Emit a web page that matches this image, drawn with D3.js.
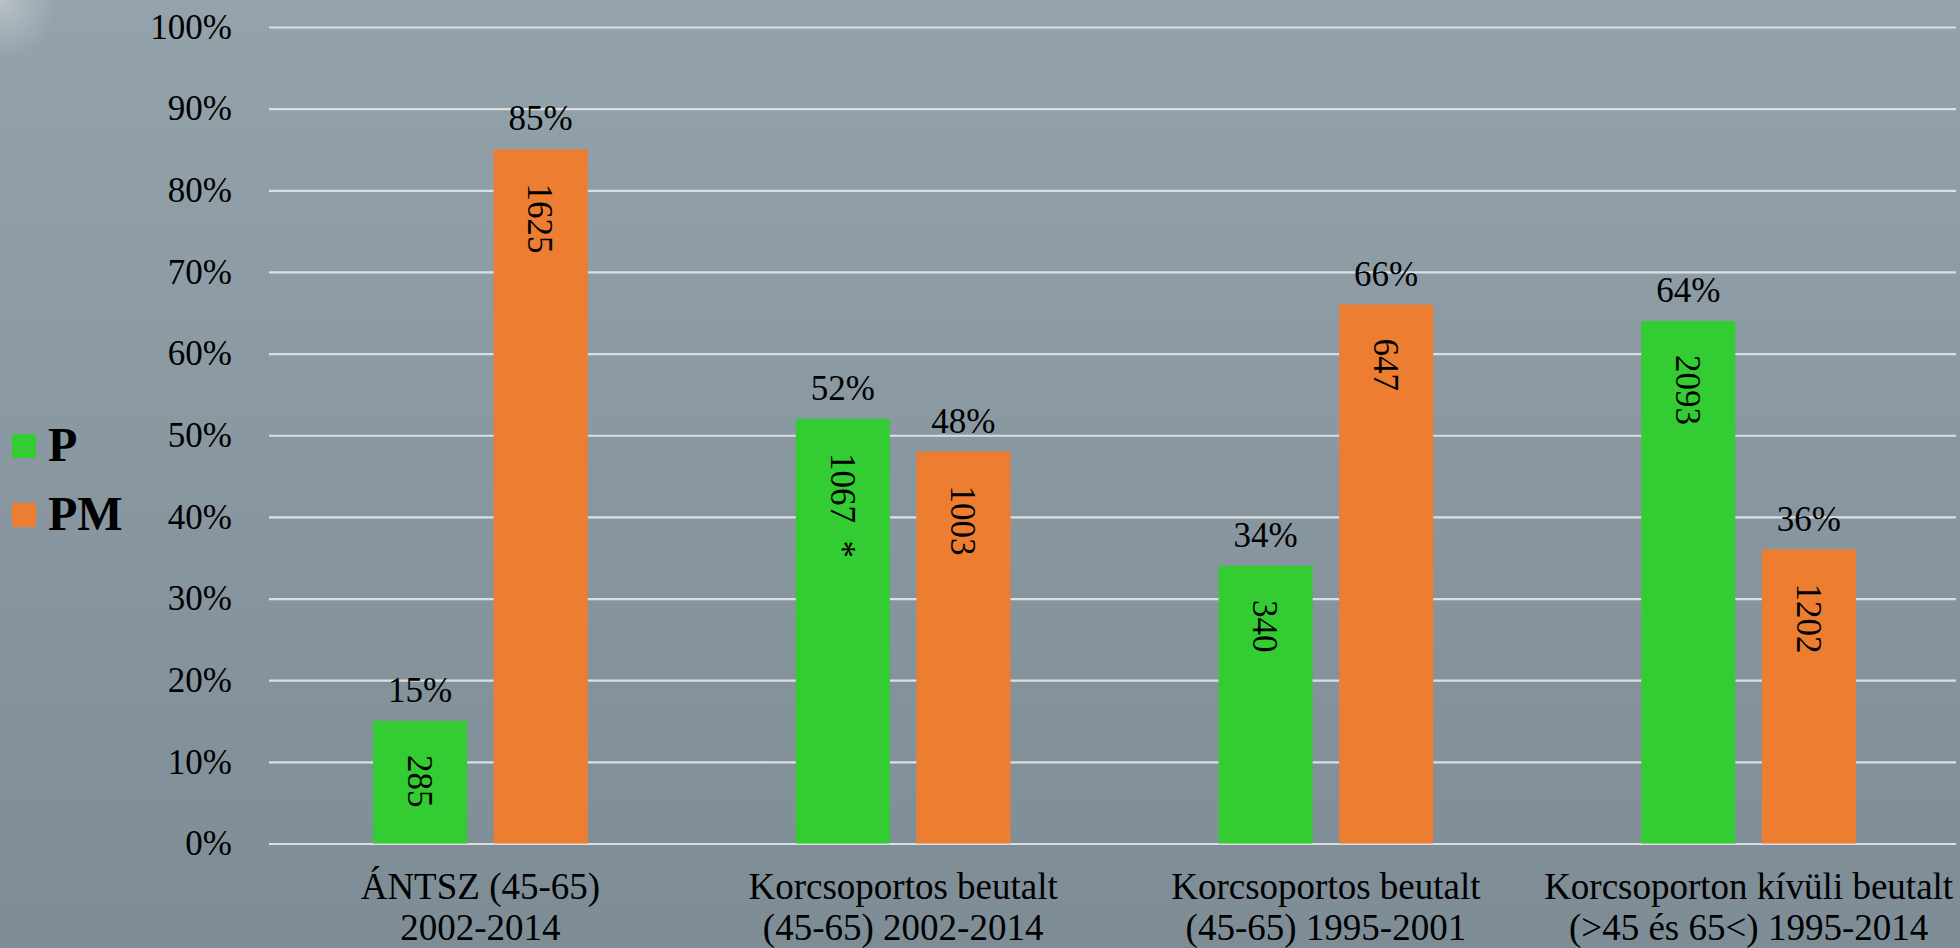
<!DOCTYPE html>
<html>
<head>
<meta charset="utf-8">
<script src="https://cdn.jsdelivr.net/npm/d3@7"></script>
<style>
    html, body { margin: 0; padding: 0; overflow: hidden; }
    svg { display: block; }
</style>
</head>
<body>
<svg id="chart"></svg>
<script>
    "use strict";
    // chart data
    var categoryLine1 = ["ÁNTSZ (45-65)", "Korcsoportos beutalt", "Korcsoportos beutalt", "Korcsoporton kívüli beutalt"];
    var categoryLine2 = ["2002-2014", "(45-65) 2002-2014", "(45-65) 1995-2001", "(>45 és 65<) 1995-2014"];
    var seriesNames = ["P", "PM"];
    var pShare = [15, 52, 34, 64];
    var pmShare = [85, 48, 66, 36];
    var pCounts = ["285", "1067  *", "340", "2093"];
    var pmCounts = ["1625", "1003", "647", "1202"];
    var yTicks = [0, 10, 20, 30, 40, 50, 60, 70, 80, 90, 100];
    var seriesColors = ["#33cc33", "#ed7d31"];

    var width = 1960;
    var height = 948;
    var svg = d3.select("#chart").attr("width", width).attr("height", height);

    var defs = svg.append("defs");
    var bg = defs.append("linearGradient").attr("id", "bg")
        .attr("x1", 0).attr("y1", 0).attr("x2", 0).attr("y2", 1);
    bg.append("stop").attr("offset", "0%").attr("stop-color", "#93a2ab");
    bg.append("stop").attr("offset", "100%").attr("stop-color", "#7e8c96");
    var glow = defs.append("radialGradient").attr("id", "glow")
        .attr("cx", 0).attr("cy", 0).attr("r", 1);
    glow.append("stop").attr("offset", "0%").attr("stop-color", "#ffffff").attr("stop-opacity", 0.35);
    glow.append("stop").attr("offset", "100%").attr("stop-color", "#ffffff").attr("stop-opacity", 0);

    svg.append("rect").attr("width", width).attr("height", height).attr("fill", "url(#bg)");
    svg.append("rect").attr("width", 60).attr("height", 60).attr("fill", "url(#glow)");

    var rows = categoryLine1.map(function (c, i) {
        return { key: i, values: [
            { name: "P", share: pShare[i], count: pCounts[i] },
            { name: "PM", share: pmShare[i], count: pmCounts[i] }
        ] };
    });

    var x0 = d3.scaleBand()
        .domain(d3.range(categoryLine1.length))
        .range([269, 1960])
        .padding(0);
    var bw = x0.bandwidth();
    var x1 = d3.scaleBand()
        .domain(seriesNames)
        .range([104, bw - 104])
        .paddingInner(0.22);
    var y = d3.scaleLinear()
        .domain([0, 100])
        .range([843.5, 27]);
    var color = d3.scaleOrdinal().domain(seriesNames).range(seriesColors);

    var font = "'Liberation Serif', 'Times New Roman', serif";

    // gridlines + y axis
    var yAxis = svg.append("g")
        .attr("transform", "translate(269,0)")
        .call(d3.axisLeft(y).tickValues(yTicks).tickSize(-(1956 - 269)).tickPadding(37)
            .tickFormat(function (d) { return d + "%"; }));
    yAxis.select(".domain").remove();
    yAxis.selectAll(".tick line").attr("stroke", "#dcdfe1").attr("stroke-width", 2.2);
    yAxis.selectAll(".tick text")
        .attr("fill", "#000")
        .style("font-family", font)
        .style("font-size", "35px");

    // bars
    var groups = svg.selectAll(".group")
        .data(rows)
        .enter().append("g")
        .attr("class", "group")
        .attr("transform", function (d) { return "translate(" + x0(d.key) + ",0)"; });

    groups.selectAll("rect")
        .data(function (d) { return d.values; })
        .enter().append("rect")
        .attr("x", function (d) { return x1(d.name); })
        .attr("y", function (d) { return y(d.share); })
        .attr("width", x1.bandwidth())
        .attr("height", function (d) { return y(0) - y(d.share); })
        .attr("fill", function (d) { return color(d.name); });

    // percentage labels
    groups.selectAll(".pct")
        .data(function (d) { return d.values; })
        .enter().append("text")
        .attr("class", "pct")
        .attr("x", function (d) { return x1(d.name) + x1.bandwidth() / 2; })
        .attr("y", function (d) { return y(d.share) - 19; })
        .attr("text-anchor", "middle")
        .style("font-family", font)
        .style("font-size", "35px")
        .text(function (d) { return d.share + "%"; });

    // rotated count labels
    groups.selectAll(".cnt")
        .data(function (d) { return d.values; })
        .enter().append("text")
        .attr("class", "cnt")
        .attr("transform", function (d) {
            return "translate(" + (x1(d.name) + x1.bandwidth() / 2) + "," + (y(d.share) + 34) + ") rotate(90)";
        })
        .attr("dy", "0.35em")
        .attr("text-anchor", "start")
        .style("font-family", font)
        .style("font-size", "35px")
        .style("white-space", "pre")
        .text(function (d) { return d.count; });

    // category labels
    var cats = svg.selectAll(".cat")
        .data(categoryLine1)
        .enter().append("text")
        .attr("class", "cat")
        .attr("text-anchor", "middle")
        .style("font-family", font)
        .style("font-size", "37px");
    cats.append("tspan")
        .attr("x", function (d, i) { return x0(i) + bw / 2; })
        .attr("y", 899)
        .text(function (d) { return d; });
    cats.append("tspan")
        .attr("x", function (d, i) { return x0(i) + bw / 2; })
        .attr("y", 940)
        .text(function (d, i) { return categoryLine2[i]; });

    // legend
    var legend = svg.selectAll(".legend")
        .data(seriesNames)
        .enter().append("g")
        .attr("class", "legend")
        .attr("transform", function (d, i) { return "translate(12," + (434 + i * 69) + ")"; });
    legend.append("rect")
        .attr("width", 24)
        .attr("height", 24)
        .attr("fill", function (d) { return color(d); });
    legend.append("text")
        .attr("x", 36)
        .attr("y", 27)
        .style("font-family", font)
        .style("font-size", "48px")
        .style("font-weight", "bold")
        .text(function (d) { return d; });
</script>
</body>
</html>
